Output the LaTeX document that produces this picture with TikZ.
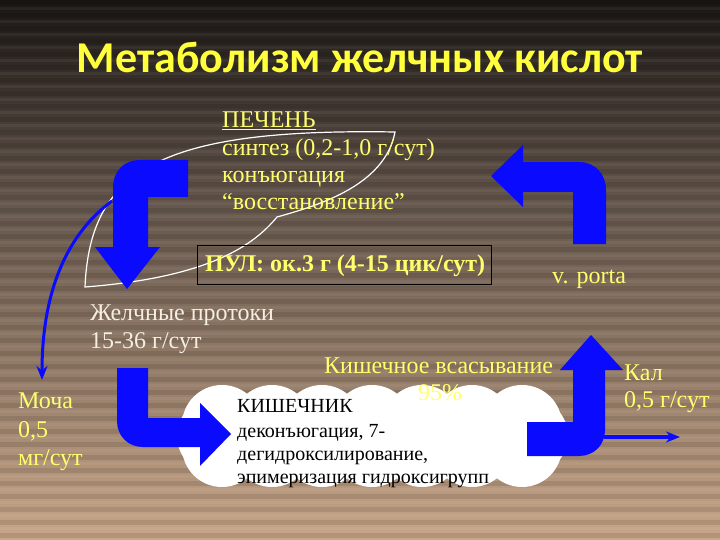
\documentclass[tikz,border=0pt]{standalone}
\usepackage{fontspec}
\setmainfont{Liberation Serif}
\newfontfamily\titlefont{Carlito}
\usetikzlibrary{arrows.meta}
\definecolor{ylw}{RGB}{255,255,110}
\definecolor{ttl}{RGB}{255,255,60}
\definecolor{arrblue}{RGB}{10,10,255}
\definecolor{pale}{RGB}{245,238,225}
\definecolor{bgA}{RGB}{26,22,20}
\definecolor{bgB}{RGB}{100,86,76}
\definecolor{bgC}{RGB}{150,126,106}
\definecolor{bgD}{RGB}{200,166,136}
\begin{document}
\begin{tikzpicture}[x=1pt,y=-1pt,
  txt/.style={inner sep=0pt, anchor=base west, text=ylw, font=\fontsize{24}{28}\selectfont},
  ptxt/.style={txt, text=pale},
  ctxt/.style={inner sep=0pt, anchor=base west, text=black, font=\fontsize{20}{24}\selectfont},
  bigarrow/.style={fill=arrblue},
  thinarrow/.style={draw=arrblue, line width=3.5pt, -{Stealth[length=14pt,width=11pt]}},
  leaf/.style={draw=white, line width=1.2pt}]
\useasboundingbox (0,0) rectangle (720,540);
% background
\shade[top color=bgA, bottom color=bgB] (0,0) rectangle (720,200);
\shade[top color=bgB, bottom color=bgC] (0,200) rectangle (720,380);
\shade[top color=bgC, bottom color=bgD] (0,380) rectangle (720,540);
\foreach \y in {0,13,...,540} {
  \fill[black, opacity=0.10] (0,\y) rectangle (720,\y+5);
  \fill[white, opacity=0.05] (0,\y+7) rectangle (720,\y+10);
}
% title
\node[inner sep=0pt, anchor=base, text=ttl, font=\titlefont\bfseries\fontsize{44}{50}\selectfont] (title) at (360,73) {Метаболизм желчных кислот};
% leaf outline
\draw[leaf] (85,287) .. controls (90,170) and (160,128) .. (395,132)
   .. controls (385,185) and (320,205) .. (277,217)
   .. controls (250,250) and (200,278) .. cycle;
% liver text
\node[txt] (liver) at (222,128) {\underline{ПЕЧЕНЬ}};
\node[txt] (synth) at (222,156) {синтез (0,2-1,0 г/сут)};
\node[txt] (conj) at (222,183) {конъюгация};
\node[txt] (restore) at (222,210) {“восстановление”};
% pool box
\draw[black, line width=0.8pt] (197,245) rectangle (491,284);
\node[txt, font=\bfseries\fontsize{24}{28}\selectfont] (pool) at (205,271) {ПУЛ: ок.3 г (4-15 цик/сут)};
% v. porta
\node[txt] (porta) at (552,283) {v. porta};
% bile ducts
\node[ptxt] (ducts) at (90,320) {Желчные протоки};
\node[ptxt] (ducts2) at (90,348) {15-36 г/сут};
% urine
\node[txt] (urine) at (18,408) {Моча};
\node[txt] (urine2) at (18,437) {0,5};
\node[txt] (urine3) at (18,465) {мг/сут};
% cloud
\fill[white] (215,436) circle (38);
\fill[white] (530,436) circle (38);
\fill[white] (215,420) rectangle (530,455);
\foreach \x in {222,272,322,372,422,472,522} {
  \fill[white] (\x,425) circle (40);
  \fill[white] (\x,447) circle (40);
}
\node[ctxt] (gut) at (237,412) {КИШЕЧНИК};
\node[ctxt] (gut1) at (237,437) {деконъюгация, 7-};
\node[ctxt] (gut2) at (237,460) {дегидроксилирование,};
\node[ctxt] (gut3) at (237,483) {эпимеризация гидроксигрупп};
% absorption
\node[txt] (absorb) at (324,373) {Кишечное всасывание};
\node[txt, anchor=base] (pct) at (440,400) {95\%};
% feces
\node[txt] (feces) at (624,380) {Кал};
\node[txt] (feces2) at (624,407) {0,5 г/сут};
% big arrows
\fill[bigarrow] (188,160) -- (140,160) .. controls (124,160) and (113,171) .. (113,188)
  -- (113,247) -- (95,247) -- (127,289) -- (160,247) -- (148,247) -- (148,197) -- (188,197) -- cycle;
\fill[bigarrow] (573,244) -- (606,244) -- (606,190) .. controls (606,174) and (595,162) .. (579,162)
  -- (523,162) -- (523,145) -- (491,176) -- (523,207) -- (523,192) -- (573,192) -- cycle;
\fill[bigarrow] (117,368) -- (148,368) -- (148,418) -- (200,418) -- (200,403) -- (231,434)
  -- (200,466) -- (200,447) -- (143,447) .. controls (128,447) and (117,436) .. (117,421) -- cycle;
\fill[bigarrow] (527,422) -- (573,422) -- (573,370) -- (560,370) -- (591,335) -- (623,370)
  -- (605,370) -- (605,430) .. controls (605,445) and (594,456) .. (579,456) -- (527,456) -- cycle;
% thin arrows
\coordinate (fstart) at (604,437);
\coordinate (fend) at (680,437);
\draw[thinarrow] (fstart) -- (fend);
\coordinate (ustart) at (112,201);
\coordinate (uend) at (42,380);
\draw[thinarrow, line width=3pt] (ustart) .. controls (62,238) and (42,300) .. (uend);
\end{tikzpicture}
\end{document}
